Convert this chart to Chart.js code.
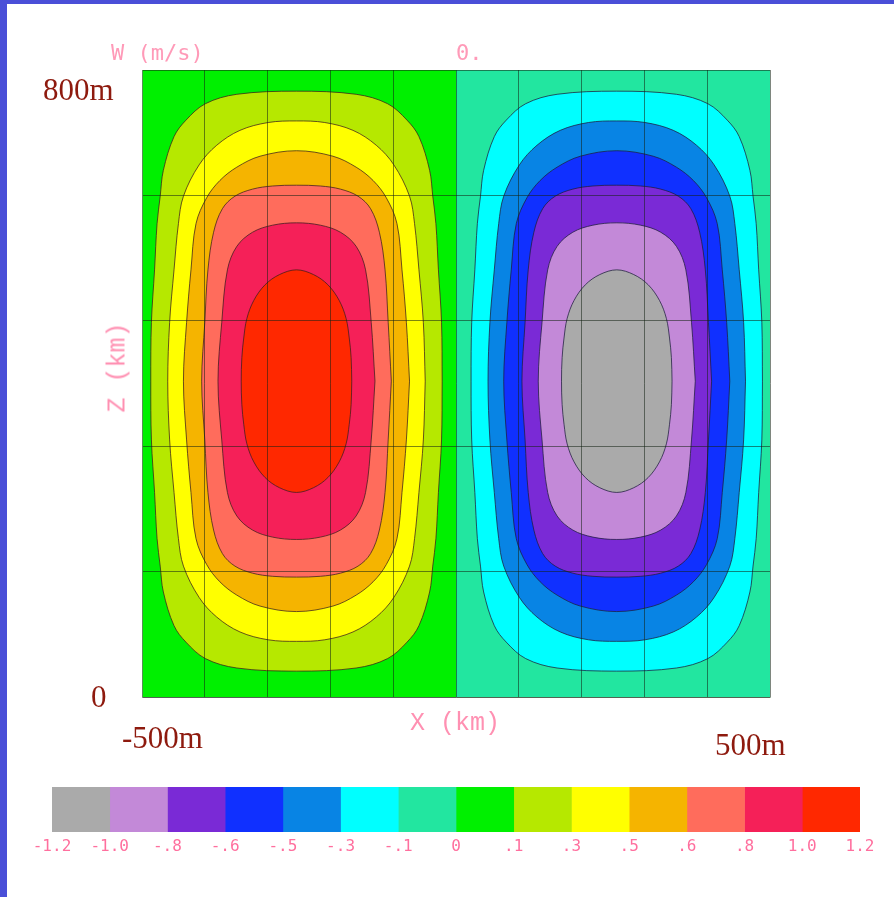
<!DOCTYPE html>
<html>
<head>
<meta charset="utf-8">
<script src="https://cdn.jsdelivr.net/npm/chart.js"></script>
<style>
html, body { margin: 0; padding: 0; background: #fff; }
#page { position: relative; width: 894px; height: 897px; overflow: hidden; background: #fff; }
#edgeLeft { position: absolute; left: 0; top: 0; width: 7px; height: 897px; background: #4a4fd8; }
#edgeTop { position: absolute; left: 0; top: 0; width: 894px; height: 4px; background: #4a4fd8; }
canvas { position: absolute; left: 0; }
#plot { top: 0; }
#bar { top: 770px; }
.lbl { position: absolute; white-space: nowrap; line-height: 1; }
.pink { font-family: "DejaVu Sans Mono", monospace; color: #ff9ab8; font-size: 22px; }
.axis { font-family: "Liberation Mono", monospace; color: #ff90b2; font-size: 25px; }
.dark { font-family: "Liberation Serif", "Times New Roman", serif; color: #8e1a0e; font-size: 31px; }
</style>
</head>
<body>
<div id="page">
  <canvas id="plot" width="894" height="897"></canvas>
  <canvas id="bar" width="894" height="110"></canvas>
  <div id="edgeLeft"></div>
  <div id="edgeTop"></div>
  <div class="lbl pink" style="left:111px; top:42px;">W (m/s)</div>
  <div class="lbl pink" style="left:456px; top:42px;">0.</div>
  <div class="lbl axis" style="left:410px; top:711px;">X (km)</div>
  <div class="lbl axis" style="left:73px; top:355px; width:90px; text-align:center; transform:rotate(-90deg);">Z (km)</div>
  <div class="lbl dark" style="left:43px; top:74px;">800m</div>
  <div class="lbl dark" style="left:91px; top:681px;">0</div>
  <div class="lbl dark" style="left:122px; top:722px;">-500m</div>
  <div class="lbl dark" style="left:715px; top:729px;">500m</div>
</div>
<script>
// colour classes of the shaded field (W in m/s)
const levels = [-1.2, -1.0, -0.8, -0.6, -0.5, -0.3, -0.1, 0, 0.1, 0.3, 0.5, 0.6, 0.8, 1.0, 1.2];
const tickLabels = ['-1.2', '-1.0', '-.8', '-.6', '-.5', '-.3', '-.1', '0', '.1', '.3', '.5', '.6', '.8', '1.0', '1.2'];
const levelColors = ['#aaaaaa', '#c389d8', '#7a2ad6', '#1030ff', '#0884e4', '#00ffff', '#22e6a0',
                     '#00f000', '#b6e800', '#ffff00', '#f5b400', '#ff6c5c', '#f52058', '#ff2800'];

// domain (m)
const xRange = [-500, 500];
const zRange = [0, 800];

// cell centres (x, z in m)
const updraftCentre = [-254, 403];
const downdraftCentre = [256, 403];

// one quarter of each closed contour: [dx, dz] from the centre
const ring01 = [[232,0],[231,75],[226,142],[222,201],[217,236],[212,269],[195,312],[176,333],[145,354],[95,366],[0,370]];
const ring03 = [[205,0],[202,75],[195,142],[188,201],[180,236],[155,276],[127,301],[90,320],[45,330],[0,332]];
const ring05 = [[180,0],[175,75],[168,142],[160,201],[143,234],[122,256],[95,273],[58,287],[0,294]];
const ring06 = [[151,0],[146,75],[141,142],[132,190],[118,220],[98,236],[70,245],[38,249],[0,250]];
const ring08 = [[125,0],[119,75],[110,142],[95,172],[70,190],[38,199],[0,202]];
const ring10 = [[88,0],[87,30],[84,55],[79,80],[68,103],[50,123],[27,136],[0,142]];

const upRings = [ring01, ring03, ring05, ring06, ring08, ring10];
const upLevels = [0.1, 0.3, 0.5, 0.6, 0.8, 1.0];
const downRings = [ring01, ring03, ring05, ring06, ring08, ring10];
const downLevels = [-0.1, -0.3, -0.5, -0.6, -0.8, -1.0];

function colorAbove(v) { return levelColors[levels.indexOf(v)]; }
function colorBelow(v) { return levelColors[levels.indexOf(v) - 1]; }

function closedRing(centre, quarter) {
    const [cx, cz] = centre;
    const pts = [];
    const rev = quarter.slice().reverse();
    quarter.forEach(([dx, dz]) => pts.push({x: cx + dx, y: cz + dz}));
    rev.slice(1).forEach(([dx, dz]) => pts.push({x: cx - dx, y: cz + dz}));
    quarter.slice(1).forEach(([dx, dz]) => pts.push({x: cx - dx, y: cz - dz}));
    rev.slice(1).forEach(([dx, dz]) => pts.push({x: cx + dx, y: cz - dz}));
    return pts;
}

function rect(x0, x1) {
    return [{x: x0, y: zRange[0]}, {x: x1, y: zRange[0]}, {x: x1, y: zRange[1]}, {x: x0, y: zRange[1]}, {x: x0, y: zRange[0]}];
}

// bottom layer first
const layers = [];
layers.push({data: rect(xRange[0], 0), backgroundColor: colorAbove(0), borderWidth: 0, tension: 0});
layers.push({data: rect(0, xRange[1]), backgroundColor: colorBelow(0), borderWidth: 0, tension: 0});
upRings.forEach((r, i) => layers.push({
    data: closedRing(updraftCentre, r), backgroundColor: colorAbove(upLevels[i]),
    borderColor: 'rgba(60,30,30,0.75)', borderWidth: 1, tension: 0.35
}));
downRings.forEach((r, i) => layers.push({
    data: closedRing(downdraftCentre, r), backgroundColor: colorBelow(downLevels[i]),
    borderColor: 'rgba(30,30,60,0.75)', borderWidth: 1, tension: 0.35
}));
layers.forEach(l => { l.showLine = true; l.fill = 'shape'; l.pointRadius = 0; l.pointHoverRadius = 0; });

new Chart(document.getElementById('plot').getContext('2d'), {
    type: 'scatter',
    data: { datasets: layers.slice().reverse() },
    options: {
        responsive: false,
        animation: false,
        events: [],
        layout: { padding: { left: 142, right: 124, top: 70, bottom: 200 } },
        plugins: { legend: { display: false }, tooltip: { enabled: false } },
        scales: {
            x: {
                type: 'linear', min: xRange[0], max: xRange[1],
                ticks: { display: false, stepSize: 100 },
                grid: { color: 'rgba(20,35,20,0.55)', lineWidth: 1, drawTicks: false, z: 1 },
                border: { color: 'rgba(120,150,120,0.7)', z: 1 },
                afterFit: s => { s.height = 0; }
            },
            y: {
                type: 'linear', min: zRange[0], max: zRange[1],
                ticks: { display: false, stepSize: 160 },
                grid: { color: 'rgba(20,35,20,0.55)', lineWidth: 1, drawTicks: false, z: 1 },
                border: { color: 'rgba(120,150,120,0.7)', z: 1 },
                afterFit: s => { s.width = 0; }
            }
        }
    }
});

// colour bar
const barSets = levelColors.map(c => ({
    data: [1], backgroundColor: c, borderWidth: 0, barPercentage: 1, categoryPercentage: 1
}));

new Chart(document.getElementById('bar').getContext('2d'), {
    type: 'bar',
    data: { labels: ['W'], datasets: barSets },
    options: {
        indexAxis: 'y',
        responsive: false,
        animation: false,
        events: [],
        layout: { padding: { left: 52, right: 34, top: 17, bottom: 18 } },
        plugins: { legend: { display: false }, tooltip: { enabled: false } },
        scales: {
            x: {
                type: 'linear', stacked: true, min: 0, max: levelColors.length,
                grid: { display: false, drawTicks: false },
                border: { display: false },
                ticks: {
                    stepSize: 1, autoSkip: false, maxRotation: 0, padding: 5,
                    color: '#ff6f9e',
                    font: { family: 'DejaVu Sans Mono', size: 16 },
                    callback: v => tickLabels[v]
                },
                afterFit: s => { s.height = 30; }
            },
            y: { stacked: true, display: false }
        }
    }
});
</script>
</body>
</html>
